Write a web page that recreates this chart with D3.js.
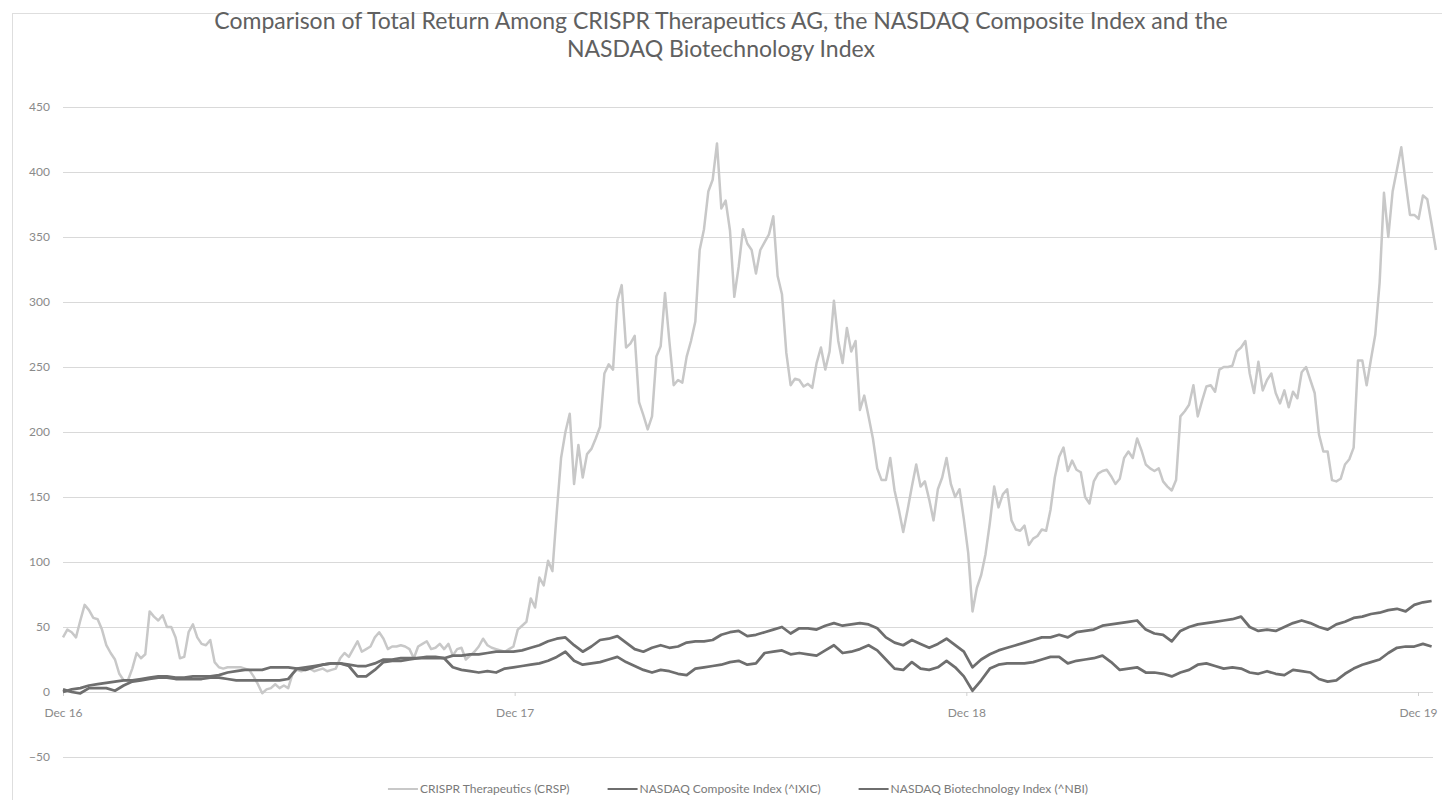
<!DOCTYPE html>
<html>
<head>
<meta charset="utf-8">
<script src="https://cdn.jsdelivr.net/npm/d3@7"></script>
<style>
  body { margin: 0; background: #fff; }
  svg text { font-family: Lato, "Noto Sans", sans-serif; }
</style>
</head>
<body>
<div id="viz"></div>
<script>
// total return in % since Dec 2016
// CRSP read twice a week, the two indexes once a week
const crspValues = [
  42, 48, 46, 42, 55, 67, 63, 57, 56, 48, 36, 30, 25, 14, 9, 9, 18, 30, 26, 29,
  62, 58, 55, 59, 50, 50, 42, 26, 27, 46, 52, 42, 37, 36, 40, 23, 19, 18, 19, 19,
  19, 19, 18, 17, 12, 6, -1, 2, 3, 6, 3, 5, 3, 14, 17, 16, 17, 18, 16, 17,
  18, 16, 17, 18, 26, 30, 27, 33, 39, 31, 33, 35, 42, 46, 41, 33, 35, 35, 36, 35,
  33, 26, 35, 37, 39, 33, 34, 37, 33, 37, 28, 33, 34, 25, 28, 31, 35, 41, 36, 34,
  33, 32, 31, 33, 35, 48, 51, 54, 72, 65, 88, 82, 101, 93, 138, 180, 200, 214, 160, 190,
  165, 183, 187, 195, 204, 245, 252, 248, 301, 313, 265, 268, 274, 223, 213, 202, 212, 258, 266, 307,
  270, 236, 240, 238, 258, 270, 285, 340, 356, 385, 394, 422, 372, 378, 355, 304, 327, 356, 345, 340,
  322, 340, 346, 352, 366, 320, 306, 261, 236, 241, 240, 235, 237, 234, 253, 265, 248, 262, 301, 270,
  253, 280, 262, 270, 217, 228, 212, 195, 172, 163, 163, 180, 155, 140, 123, 140, 158, 175, 158, 162,
  148, 132, 156, 165, 180, 160, 150, 156, 133, 107, 62, 80, 90, 106, 130, 158, 142, 152, 156, 132,
  125, 124, 128, 113, 118, 120, 125, 124, 140, 165, 181, 188, 170, 178, 171, 169, 150, 145, 162, 168,
  170, 171, 166, 160, 164, 180, 185, 180, 195, 186, 175, 172, 170, 172, 162, 158, 155, 163, 212, 216,
  221, 236, 212, 224, 235, 236, 231, 248, 250, 250, 251, 262, 265, 270, 245, 230, 254, 232, 240, 245,
  230, 222, 232, 219, 231, 226, 246, 250, 240, 230, 198, 185, 185, 163, 162, 164, 175, 179, 188, 255,
  255, 236, 256, 275, 315, 384, 350, 385, 402, 419, 392, 367, 367, 364, 382, 379, 360, 340
];
const ixicValues = [
  0, 2, 3, 5, 6, 7, 8, 9, 9, 10, 11, 12, 12, 11, 11, 12, 12, 12, 13, 15,
  16, 17, 17, 17, 19, 19, 19, 18, 19, 20, 21, 22, 22, 21, 20, 20, 22, 25, 25, 26,
  26, 26, 27, 27, 26, 28, 28, 29, 29, 30, 31, 31, 31, 32, 34, 36, 39, 41, 42, 36,
  31, 35, 40, 41, 43, 38, 33, 31, 34, 36, 34, 35, 38, 39, 39, 40, 44, 46, 47, 43,
  44, 46, 48, 50, 45, 49, 49, 48, 51, 53, 51, 52, 53, 52, 49, 42, 38, 36, 40, 37,
  34, 37, 41, 36, 31, 19, 25, 29, 32, 34, 36, 38, 40, 42, 42, 44, 42, 46, 47, 48,
  51, 52, 53, 54, 55, 48, 45, 44, 39, 47, 50, 52, 53, 54, 55, 56, 58, 50, 47, 48,
  47, 50, 53, 55, 53, 50, 48, 52, 54, 57, 58, 60, 61, 63, 64, 62, 67, 69, 70
];
const nbiValues = [
  2, 0, -1, 3, 3, 3, 1, 5, 8, 9, 10, 11, 11, 10, 10, 10, 10, 11, 11, 10,
  9, 9, 9, 9, 9, 9, 10, 18, 17, 19, 21, 22, 22, 20, 12, 12, 17, 23, 24, 24,
  25, 26, 26, 26, 26, 19, 17, 16, 15, 16, 15, 18, 19, 20, 21, 22, 24, 27, 31, 24,
  21, 22, 23, 25, 27, 23, 20, 17, 15, 17, 16, 14, 13, 18, 19, 20, 21, 23, 24, 21,
  22, 30, 31, 32, 29, 30, 29, 28, 32, 36, 30, 31, 33, 36, 32, 25, 18, 17, 23, 18,
  17, 19, 24, 19, 12, 1, 9, 18, 21, 22, 22, 22, 23, 25, 27, 27, 22, 24, 25, 26,
  28, 23, 17, 18, 19, 15, 15, 14, 12, 15, 17, 21, 22, 20, 18, 19, 18, 15, 14, 16,
  14, 13, 17, 16, 15, 10, 8, 9, 14, 18, 21, 23, 25, 30, 34, 35, 35, 37, 35
];
const seriesNames = [
  "CRISPR Therapeutics (CRSP)",
  "NASDAQ Composite Index (^IXIC)",
  "NASDAQ Biotechnology Index (^NBI)"
];
const tickLabels = ["Dec 16", "Dec 17", "Dec 18", "Dec 19"];
const yTicks = [-50, 0, 50, 100, 150, 200, 250, 300, 350, 400, 450];
const titleLines = [
  "Comparison of Total Return Among CRISPR Therapeutics AG, the NASDAQ Composite Index and the",
  "NASDAQ Biotechnology Index"
];

const width = 1442;
const height = 800;
const startDate = new Date(2016, 11, 1);
const halfWeeks = crspValues.map((v, i) => d3.timeHour.offset(startDate, 84 * i));
const weeks = ixicValues.map((v, i) => d3.timeDay.offset(startDate, 7 * i));
const tickDates = tickLabels.map((t, i) => new Date(2016 + i, 11, 1));

const svg = d3.select("#viz").append("svg")
  .attr("width", width)
  .attr("height", height);

svg.append("rect")
  .attr("x", 12.5).attr("y", 13.5)
  .attr("width", width).attr("height", height)
  .attr("fill", "none")
  .attr("stroke", "#dedede");

const x = d3.scaleTime()
  .domain([tickDates[0], tickDates[3]])
  .range([63, 1418]);

const y = d3.scaleLinear()
  .domain([-50, 450])
  .range([757, 107]);

const gridRight = 1433;

// y axis with gridlines
const yAxis = svg.append("g")
  .attr("transform", "translate(63,0)")
  .call(d3.axisLeft(y)
    .tickValues(yTicks)
    .tickSize(-(gridRight - 63))
    .tickPadding(13));
yAxis.select(".domain").remove();
yAxis.selectAll(".tick line").attr("stroke", "#d9d9d9");
yAxis.selectAll(".tick text")
  .attr("fill", "#8a8a8a")
  .style("font-size", "12px");

// x axis sits on the zero line
const xAxis = svg.append("g")
  .attr("transform", `translate(0,${y(0)})`)
  .call(d3.axisBottom(x)
    .tickValues(tickDates)
    .tickFormat((d, i) => tickLabels[i])
    .tickSizeInner(4)
    .tickSizeOuter(0)
    .tickPadding(12));
xAxis.select(".domain").remove();
xAxis.selectAll(".tick line").attr("stroke", "#d0d0d0");
xAxis.selectAll(".tick text")
  .attr("fill", "#8a8a8a")
  .style("font-size", "12px");

const series = [
  { values: crspValues, dates: halfWeeks, color: "#c8c8c8", width: 2.5 },
  { values: ixicValues, dates: weeks, color: "#6e6e6e", width: 2.75 },
  { values: nbiValues, dates: weeks, color: "#6e6e6e", width: 2.75 }
];

svg.selectAll("path.series")
  .data(series)
  .enter()
  .append("path")
  .attr("class", "series")
  .attr("d", s => d3.line()
    .x((d, i) => x(s.dates[i]))
    .y(d => y(d))(s.values))
  .attr("fill", "none")
  .attr("stroke", d => d.color)
  .attr("stroke-width", d => d.width)
  .attr("stroke-linejoin", "round");

// title
svg.append("g").selectAll("text")
  .data(titleLines)
  .enter()
  .append("text")
  .attr("x", 721)
  .attr("y", (d, i) => 29 + i * 28)
  .attr("text-anchor", "middle")
  .attr("fill", "#606060")
  .style("font-size", "23px")
  .text(d => d);

// legend
const legend = svg.append("g");
const items = legend.selectAll("g")
  .data(series)
  .enter()
  .append("g");
items.append("line")
  .attr("x1", 0).attr("x2", 30)
  .attr("y1", 0).attr("y2", 0)
  .attr("stroke", d => d.color)
  .attr("stroke-width", 2);
items.append("text")
  .attr("x", 32)
  .attr("y", 0)
  .attr("dy", "0.35em")
  .attr("fill", "#7a7a7a")
  .style("font-size", "12px")
  .text((d, i) => seriesNames[i]);

let offset = 0;
const positions = [];
items.each(function () {
  const w = 32 + this.querySelector("text").getComputedTextLength();
  positions.push(offset);
  offset += w + 38;
});
const total = offset - 38;
const legendLeft = 738 - total / 2;
items.attr("transform", (d, i) => `translate(${legendLeft + positions[i]},789)`);
</script>
</body>
</html>
